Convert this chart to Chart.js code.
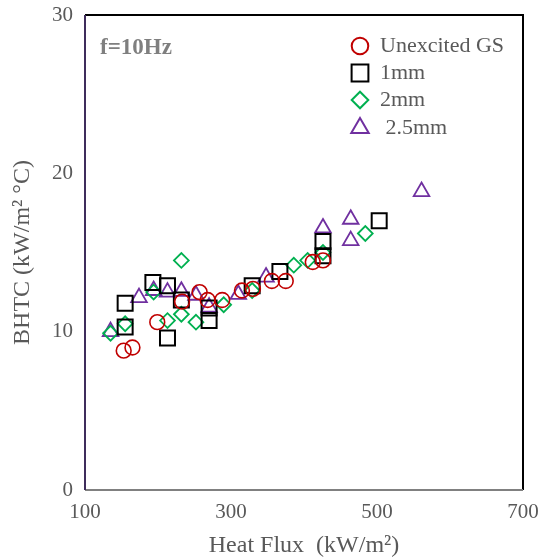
<!DOCTYPE html>
<html>
<head>
<meta charset="utf-8">
<script src="https://cdn.jsdelivr.net/npm/chart.js@4.4.1/dist/chart.umd.min.js"></script>
<style>
    html, body { margin: 0; padding: 0; background: #fff; }
    #wrap { width: 541px; height: 560px; }
</style>
</head>
<body>
<div id="wrap"><canvas id="chart" width="541" height="560"></canvas></div>
<script>
// Values
const unexcitedX = [153, 165, 199, 233, 257, 268, 288, 315, 330, 356, 375, 412, 426];
const unexcitedY = [8.8, 9.0, 10.6, 11.9, 12.5, 12.0, 12.0, 12.6, 12.7, 13.2, 13.2, 14.4, 14.5];

const mm1X = [155, 155, 193, 213, 213, 232, 270, 270, 329, 367, 426, 426, 503];
const mm1Y = [11.8, 10.3, 13.1, 12.9, 9.6, 12.0, 11.5, 10.7, 12.9, 13.8, 15.7, 14.8, 17.0];

const mm2X = [135, 155, 194, 213, 232, 232, 252, 290, 329, 386, 405, 426, 484];
const mm2Y = [9.9, 10.5, 12.5, 10.7, 11.1, 14.5, 10.6, 11.7, 12.6, 14.2, 14.5, 15.0, 16.2];

const mm25X = [135, 174, 194, 213, 232, 252, 270, 310, 348, 426, 464, 464, 561];
const mm25Y = [10.0, 12.15, 12.6, 12.5, 12.55, 12.3, 11.55, 12.35, 13.45, 16.55, 17.1, 15.75, 18.85];

const seriesLabels = ['Unexcited GS', '1mm', '2mm', ' 2.5mm'];
const xTicks = [100, 300, 500, 700];
const yTicks = [0, 10, 20, 30];

const FONT = '"Liberation Serif", "Times New Roman", serif';
const GREY = '#595959';

function toPoints(xs, ys) {
    return xs.map((x, i) => ({ x: x, y: ys[i] }));
}

function series(label, xs, ys, color, style, radius, width) {
    return {
        label: label,
        data: toPoints(xs, ys),
        pointStyle: style,
        pointRadius: radius,
        pointHoverRadius: radius,
        pointBorderColor: color,
        pointBackgroundColor: 'rgba(0,0,0,0)',
        pointBorderWidth: width,
        borderColor: color,
        backgroundColor: 'rgba(0,0,0,0)',
        showLine: false
    };
}

// Frame around the plot area, the "f=10Hz" note and the legend in the corner
const framePlugin = {
    id: 'frame',
    afterDraw(chart) {
        const { ctx, chartArea: a } = chart;
        ctx.save();
        ctx.lineWidth = 2;
        ctx.strokeStyle = '#000';
        ctx.beginPath();
        ctx.moveTo(a.left, a.top);
        ctx.lineTo(a.right, a.top);
        ctx.lineTo(a.right, a.bottom);
        ctx.stroke();
        ctx.strokeStyle = '#808080';
        ctx.beginPath();
        ctx.moveTo(a.left, a.bottom);
        ctx.lineTo(a.right, a.bottom);
        ctx.stroke();
        ctx.strokeStyle = '#3f2d5c';
        ctx.beginPath();
        ctx.moveTo(a.left, a.top);
        ctx.lineTo(a.left, a.bottom);
        ctx.stroke();

        ctx.fillStyle = '#7f7f7f';
        ctx.font = 'bold 23px ' + FONT;
        ctx.textBaseline = 'middle';
        ctx.textAlign = 'left';
        ctx.fillText('f=10Hz', 100, 48);

        const rowY = [46, 73, 100, 128];
        chart.data.datasets.forEach((ds, i) => {
            ctx.fillStyle = 'rgba(0,0,0,0)';
            ctx.strokeStyle = ds.pointBorderColor;
            Chart.helpers.drawPoint(ctx, {
                pointStyle: ds.pointStyle,
                radius: ds.pointRadius * 1.12,
                borderWidth: ds.pointBorderWidth,
                rotation: 0
            }, 360, rowY[i]);
            ctx.fillStyle = GREY;
            ctx.font = '22px ' + FONT;
            ctx.fillText(ds.label, 380, rowY[i]);
        });
        ctx.restore();
    }
};

const ctx = document.getElementById('chart').getContext('2d');
const chart = new Chart(ctx, {
    type: 'scatter',
    data: {
        datasets: [
            series(seriesLabels[0], unexcitedX, unexcitedY, '#c00000', 'circle', 7.4, 1.6),
            series(seriesLabels[1], mm1X, mm1Y, '#000000', 'rect', 10.6, 2),
            series(seriesLabels[2], mm2X, mm2Y, '#00b050', 'rectRot', 7.4, 1.8),
            series(seriesLabels[3], mm25X, mm25Y, '#7030a0', 'triangle', 9, 1.8)
        ]
    },
    options: {
        responsive: false,
        animation: false,
        layout: { padding: { left: 0, right: 18, top: 15, bottom: 0 } },
        plugins: {
            legend: { display: false },
            tooltip: { enabled: false }
        },
        scales: {
            x: {
                type: 'linear',
                min: xTicks[0],
                max: xTicks[xTicks.length - 1],
                afterBuildTicks: s => { s.ticks = xTicks.map(v => ({ value: v })); },
                afterFit: s => {
                    s.height = 70;
                    s.paddingLeft = 0;
                    s.paddingRight = 0;
                },
                grid: { display: false, drawTicks: false },
                border: { display: false },
                ticks: {
                    color: GREY,
                    padding: 10,
                    maxRotation: 0,
                    font: { family: FONT, size: 21 }
                },
                title: {
                    display: true,
                    text: 'Heat Flux  (kW/m²)',
                    color: GREY,
                    padding: { top: 0, bottom: 0 },
                    font: { family: FONT, size: 24 }
                }
            },
            y: {
                type: 'linear',
                min: yTicks[0],
                max: yTicks[yTicks.length - 1],
                afterBuildTicks: s => { s.ticks = yTicks.map(v => ({ value: v })); },
                afterFit: s => {
                    s.width = 85;
                    s.paddingTop = 0;
                    s.paddingBottom = 0;
                },
                grid: { display: false, drawTicks: false },
                border: { display: false },
                ticks: {
                    color: GREY,
                    padding: 12,
                    font: { family: FONT, size: 21 }
                },
                title: {
                    display: true,
                    text: 'BHTC (kW/m² °C)',
                    color: GREY,
                    padding: { top: 8, bottom: 0 },
                    font: { family: FONT, size: 24 }
                }
            }
        }
    },
    plugins: [framePlugin]
});
</script>
</body>
</html>
